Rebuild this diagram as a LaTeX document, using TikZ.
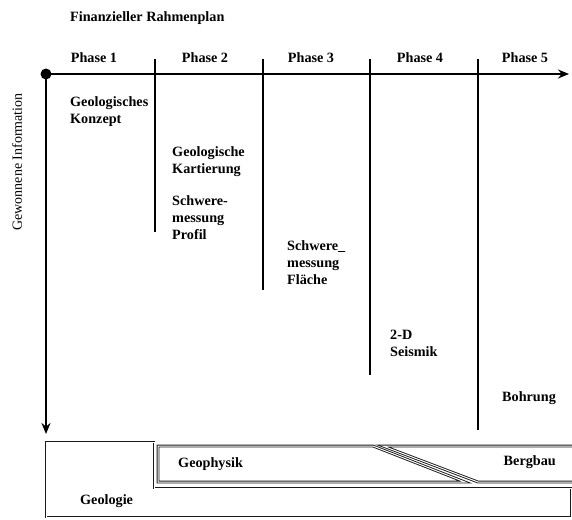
\documentclass[tikz,border=0pt]{standalone}
\usepackage{fontspec}
\setmainfont{Liberation Serif}
\usetikzlibrary{arrows.meta}
\tikzset{
  lbl/.style={font=\fontsize{14.2}{17}\selectfont\bfseries, inner sep=0pt, align=left},
  axis/.style={line width=2.6pt, -{Stealth[length=11pt,width=9pt]}},
  divider/.style={line width=1.3pt},
  band/.style={draw=black!90, double=white, double distance=1pt, line width=0.9pt},
}
\begin{document}
\begin{tikzpicture}[x=1pt,y=-1pt]
\useasboundingbox (0,0) rectangle (572,519);
\node[lbl, anchor=west] (title) at (70,18) {Finanzieller Rahmenplan};
\coordinate (origin) at (46,74);
\coordinate (tend) at (569,74);
\coordinate (iend) at (46,434);
\draw[axis] (origin) -- (tend);
\draw[axis] (origin) -- (iend);
\fill (origin) circle (5.5);
\node[font=\fontsize{14}{17}\selectfont, inner sep=0pt, rotate=90] (info) at (17,162) {Gewonnene Information};
\foreach \x/\n in {94/1, 205/2, 311/3, 420/4, 525/5}
\node[lbl] (phase\n) at (\x,58) {Phase \n};
\foreach \x/\y/\n in {155/232/1, 263/290/2, 370/375/3, 478/430/4}
{\coordinate (dtop\n) at (\x,59);
 \coordinate (dbot\n) at (\x,\y);
 \draw[divider] (dtop\n) -- (dbot\n);}
\node[lbl, anchor=north west] (konzept) at (70,96) {Geologisches\\Konzept};
\node[lbl, anchor=north west] (kartierung) at (172,146) {Geologische\\Kartierung};
\node[lbl, anchor=north west] (profil) at (172,195) {Schwere-\\messung\\Profil};
\node[lbl, anchor=north west] (flaeche) at (287,240) {Schwere\_\\messung\\Fläche};
\node[lbl, anchor=north west] (seismik) at (390,330) {2-D\\Seismik};
\node[lbl, anchor=north west] (bohrung) at (502,391) {Bohrung};
\draw[band] (46,442) -- (154,442) -- (154,488) -- (571,488) -- (571,517) -- (46,517) -- cycle;
\draw[band] (158,446) -- (373,446) -- (465,482) -- (158,482) -- cycle;
\draw[band] (573,446) -- (383,446) -- (478,482) -- (573,482);
\node[lbl, anchor=west] (geophysik) at (178,464) {Geophysik};
\node[lbl, anchor=east] (bergbau) at (556,462) {Bergbau};
\node[lbl, anchor=west] (geologie) at (80,501) {Geologie};
\end{tikzpicture}
\end{document}
